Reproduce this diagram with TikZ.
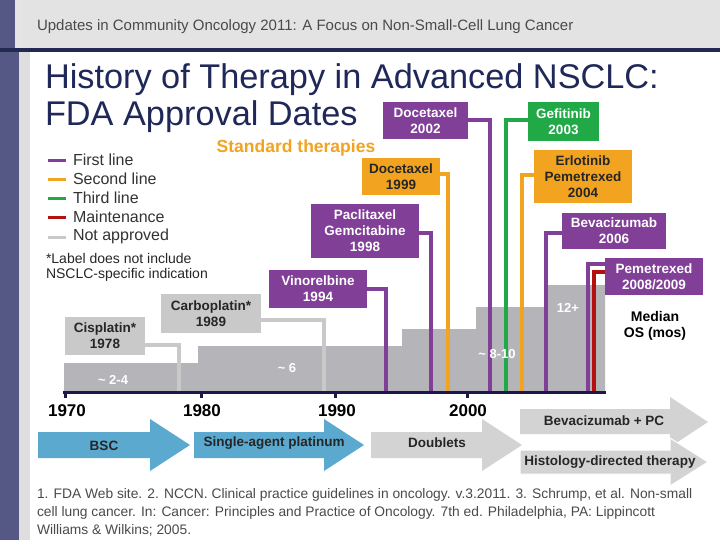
\documentclass[tikz,border=0pt]{standalone}
\usepackage{fontspec}
\setmainfont{Liberation Sans}
\usetikzlibrary{calc}
\newcommand{\fsz}[2]{\fontsize{#1}{#2}\selectfont}
\definecolor{purp}{HTML}{813F98}
\definecolor{orng}{HTML}{F2A31F}
\definecolor{grn}{HTML}{21A947}
\definecolor{redd}{HTML}{B3100F}
\definecolor{lgray}{HTML}{C9C9C9}
\definecolor{stepgray}{HTML}{B5B5B9}
\definecolor{blu}{HTML}{5BA9CE}
\definecolor{arrgray}{HTML}{D3D3D3}
\definecolor{navy}{HTML}{1F2858}
\definecolor{sidebar}{HTML}{555884}
\definecolor{hdr}{HTML}{E3E3E3}
\definecolor{hdrline}{HTML}{232A52}
\definecolor{axisc}{HTML}{1A1A48}
\definecolor{txtgray}{HTML}{4A4A4A}
\begin{document}
\begin{tikzpicture}[x=1pt,y=-1pt,
  every node/.style={inner sep=0pt,outer sep=0pt},
  boxlbl/.style={align=center,font=\bfseries\fsz{13.5}{16}},
  pbox/.style={boxlbl,fill=purp,text=white},
  obox/.style={boxlbl,fill=orng,text=black!85},
  gbox/.style={boxlbl,fill=grn,text=white},
  lbox/.style={boxlbl,fill=lgray,text=black!85},
  conn/.style={line width=4pt},
  legline/.style={line width=3pt},
  legtxt/.style={anchor=west,font=\fsz{16}{18},text=black!80},
  yearlbl/.style={font=\bfseries\fsz{17}{19}},
  oslbl/.style={font=\bfseries\fsz{13}{15},text=white},
  arrlbl/.style={font=\bfseries\fsz{13.5}{16},text=black!85}
]
\useasboundingbox (0,0) rectangle (720,540);
% background
\fill[white] (0,0) rectangle (720,540);
\fill[sidebar] (0,0) rectangle (19,540);
\fill[hdr] (19,0) rectangle (720,49);
\fill[hdr!92!white] (15,0) rectangle (21,49);
\fill[black!13] (19,49) rectangle (30,540);
\fill[hdrline] (0,48.5) rectangle (720,52);
\node[anchor=west,text=txtgray,font=\fsz{15}{17}] (hdrtxt) at (37,27)
  {Updates in Community Oncology 2011: A Focus on Non-Small-Cell Lung Cancer};
% title
\node[anchor=base west,text=navy,font=\fsz{34.3}{38}] (t1) at (45,89) {History of Therapy in Advanced NSCLC:};
\node[anchor=base west,text=navy,font=\fsz{34.3}{38}] (t2) at (45,126) {FDA Approval Dates};
% legend
\draw[legline,purp] (48,161) -- (66,161);
\draw[legline,orng] (48,180) -- (66,180);
\draw[legline,grn] (48,199) -- (66,199);
\draw[legline,redd] (48,218) -- (66,218);
\draw[legline,lgray] (48,237) -- (66,237);
\node[legtxt] (lg1) at (73,160) {First line};
\node[legtxt] (lg2) at (73,179) {Second line};
\node[legtxt] (lg3) at (73,198) {Third line};
\node[legtxt] (lg4) at (73,217) {Maintenance};
\node[legtxt] (lg5) at (73,236) {Not approved};
\node[anchor=west,font=\fsz{14}{17},text=black!85] (note1) at (46,258) {*Label does not include};
\node[anchor=west,font=\fsz{14}{17},text=black!85] (note2) at (46,275) {NSCLC-specific indication};
\node[font=\bfseries\fsz{17.5}{20},text=orng] (std) at (296,148) {Standard therapies};
% median OS steps
\fill[stepgray] (64,392) -- (64,363) -- (198,363) -- (198,346) -- (402,346) -- (402,329)
  -- (476,329) -- (476,307) -- (548,307) -- (548,285) -- (605,285) -- (605,392) -- cycle;
% boxes
\node[lbox,minimum width=80pt,minimum height=38pt] (cis78) at (105,336) {Cisplatin*\\1978};
\node[lbox,minimum width=100pt,minimum height=39pt] (carb89) at (211,313.5) {Carboplatin*\\1989};
\node[pbox,minimum width=98pt,minimum height=38pt] (vin94) at (318,289) {Vinorelbine\\1994};
\node[pbox,minimum width=108pt,minimum height=54pt] (pac98) at (365,231) {Paclitaxel\\Gemcitabine\\1998};
\node[obox,minimum width=78pt,minimum height=37pt] (doc99) at (401,176.5) {Docetaxel\\1999};
\node[pbox,minimum width=85pt,minimum height=37pt] (doc02) at (425.5,120.5) {Docetaxel\\2002};
\node[gbox,minimum width=71pt,minimum height=39pt] (gef03) at (563.5,121.5) {Gefitinib\\2003};
\node[obox,minimum width=98pt,minimum height=53pt] (erl04) at (583,176.5) {Erlotinib\\Pemetrexed\\2004};
\node[pbox,minimum width=104pt,minimum height=36pt] (bev06) at (614,231) {Bevacizumab\\2006};
\node[pbox,minimum width=98pt,minimum height=37pt] (pem08) at (654,276.5) {Pemetrexed\\2008/2009};
% axis end points of connectors
\coordinate (c179) at (179,392);
\coordinate (c324) at (324,392);
\coordinate (c386) at (386,392);
\coordinate (c431) at (431,392);
\coordinate (c448) at (448,392);
\coordinate (c490) at (490,392);
\coordinate (c506) at (506,392);
\coordinate (c522) at (522,392);
\coordinate (c546) at (546,392);
\coordinate (c588) at (588,392);
\coordinate (c594) at (594,392);
% connectors
\draw[conn,lgray] ([yshift=-9pt]cis78.east) -| (c179);
\draw[conn,lgray] ([yshift=-6.5pt]carb89.east) -| (c324);
\draw[conn,purp] (vin94.east) -| (c386);
\draw[conn,purp] ([yshift=-2pt]pac98.east) -| (c431);
\draw[conn,orng] ([yshift=2.5pt]doc99.east) -| (c448);
\draw[conn,purp] (doc02.east) -| (c490);
\draw[conn,grn] ([yshift=1.5pt]gef03.west) -| (c506);
\draw[conn,orng] ([yshift=1.5pt]erl04.west) -| (c522);
\draw[conn,purp] ([yshift=-2pt]bev06.west) -| (c546);
\draw[conn,purp] ([yshift=-6pt]pem08.north west) -| (c588);
\draw[conn,redd] ([yshift=-14pt]pem08.north west) -| (c594);
% axis
\coordinate (ax0) at (63,392);
\coordinate (ax1) at (606,392);
\draw[line width=3pt,axisc] (ax0) -- (ax1);
\foreach \xx in {65,201,335,467} \draw[line width=3pt,axisc] (\xx,392) -- (\xx,398);
% step labels
\node[oslbl] (os1) at (113,380) {\textasciitilde{} 2-4};
\node[oslbl] (os2) at (287,368) {\textasciitilde{} 6};
\node[oslbl] (os3) at (497,354) {\textasciitilde{} 8-10};
\node[oslbl] (os4) at (568,308) {12+};
\node[font=\bfseries\fsz{14}{16},align=center] (mos) at (655,326) {Median\\OS (mos)};
% years
\node[yearlbl] (y70) at (67,411) {1970};
\node[yearlbl] (y80) at (202,411) {1980};
\node[yearlbl] (y90) at (337,411) {1990};
\node[yearlbl] (y00) at (468,411) {2000};
% era arrows
\fill[blu] (38,432) -- (150,432) -- (150,419) -- (190,445) -- (150,471) -- (150,458) -- (38,458) -- cycle;
\fill[blu] (194,432) -- (324,432) -- (324,419) -- (364,445) -- (324,471) -- (324,458) -- (194,458) -- cycle;
\fill[arrgray] (371,432) -- (482,432) -- (482,419) -- (522,445) -- (482,471) -- (482,458) -- (371,458) -- cycle;
\fill[arrgray] (520,409) -- (670,409) -- (670,397) -- (708,422) -- (670,447) -- (670,434) -- (520,434) -- cycle;
\filldraw[arrgray,draw=white,line width=1pt] (520,450) -- (670,450) -- (670,438) -- (708,462) -- (670,486) -- (670,474) -- (520,474) -- cycle;
\node[arrlbl] (bsc) at (104,446) {BSC};
\node[arrlbl] (sap) at (274,443) {Single-agent platinum};
\node[arrlbl] (dbl) at (437,443) {Doublets};
\node[arrlbl] (bpc) at (604,421) {Bevacizumab + PC};
\node[arrlbl] (hdt) at (610,462) {Histology-directed therapy};
% footnote
\node[anchor=north west,align=left,font=\fsz{13.8}{18},text=txtgray] (foot) at (37,488)
  {1. FDA Web site. 2. NCCN. Clinical practice guidelines in oncology. v.3.2011. 3. Schrump, et al. Non-small\\
   cell lung cancer. In: Cancer: Principles and Practice of Oncology. 7th ed. Philadelphia, PA: Lippincott\\
   Williams \& Wilkins; 2005.};
\end{tikzpicture}
\end{document}
